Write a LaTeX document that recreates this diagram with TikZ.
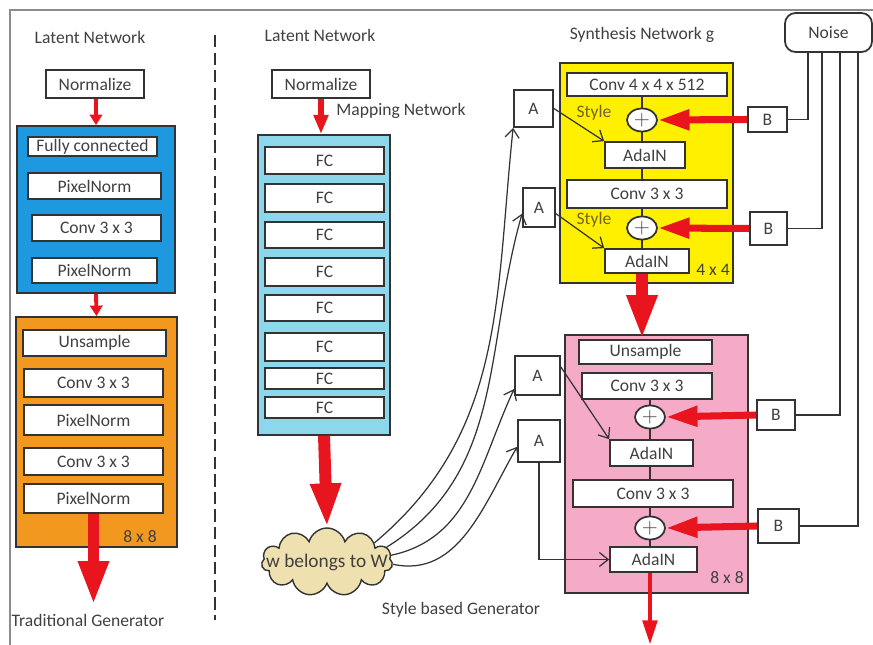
\documentclass[tikz,border=0pt]{standalone}
\usepackage{fontspec}
\setmainfont{Carlito}
\usepackage{tikz}
\usetikzlibrary{arrows.meta,shapes.geometric,shapes.symbols}

\definecolor{netblue}{RGB}{30,152,222}
\definecolor{netorange}{RGB}{243,152,30}
\definecolor{netcyan}{RGB}{140,215,235}
\definecolor{netyellow}{RGB}{255,240,0}
\definecolor{netpink}{RGB}{245,170,200}
\definecolor{cloudtan}{RGB}{238,225,175}
\definecolor{netred}{RGB}{232,20,30}
\definecolor{styletext}{RGB}{115,100,40}

\begin{document}
\begin{tikzpicture}[
	x=0.02cm, y=-0.02cm,
	every node/.style={font=\fontsize{10}{12}\selectfont, text=black!75},
	blk/.style={draw=black!80, line width=1pt, fill=white, inner sep=0pt},
	stage/.style={draw=black!80, line width=1pt, inner sep=0pt},
	addop/.style={ellipse, draw=black!80, line width=1pt, fill=white, inner sep=0pt,
		minimum width=0.6cm, minimum height=0.46cm, font=\large},
	link/.style={draw=black!80, line width=0.7pt},
	wire/.style={draw=black!80, line width=0.7pt, -{Straight Barb[length=5pt,width=8pt]}},
	thinred/.style={draw=netred, line width=2.2pt, -{Triangle[length=6pt,width=7pt]}},
	feedred/.style={draw=netred, line width=4pt, -{Triangle[length=18pt,width=11pt]}},
	bigred/.style={draw=netred, line width=6.8pt, -{Triangle[length=25pt,width=16pt]}}
	]
	
	\useasboundingbox (0,0) rectangle (873,645);
	
	% Frame and separator
	\draw[black!45, line width=1.2pt] (10,645) -- (10,10) -- (873,10);
	\draw[black!80, line width=1.6pt, dash pattern=on 7pt off 3pt] (215,35) -- (215,620);
	
	% Traditional generator
	\node at (90,37) {Latent Network};
	\node[blk, minimum width=1.96cm, minimum height=0.56cm] (norm1) at (95,84) {Normalize};
	\node[stage, fill=netblue, minimum width=3.16cm, minimum height=3.34cm] (gblue) at (96,209.5) {};
	\node[blk, minimum width=2.58cm, minimum height=0.38cm] (fcon) at (92.5,146.5) {Fully connected};
	\node[blk, minimum width=2.66cm, minimum height=0.52cm] (pn1) at (94.5,186) {PixelNorm};
	\node[blk, minimum width=2.58cm, minimum height=0.52cm] (cv1) at (96.5,228) {Conv 3 x 3};
	\node[blk, minimum width=2.5cm, minimum height=0.5cm] (pn2) at (94.5,270.5) {PixelNorm};
	
	\node[stage, fill=netorange, minimum width=3.22cm, minimum height=4.6cm] (gorange) at (96.5,432) {};
	\node[blk, minimum width=2.86cm, minimum height=0.52cm] (up1) at (94.5,343) {Unsample};
	\node[blk, minimum width=2.78cm, minimum height=0.56cm] (cv2) at (93.5,383) {Conv 3 x 3};
	\node[blk, minimum width=2.78cm, minimum height=0.6cm] (pn3) at (93.5,420) {PixelNorm};
	\node[blk, minimum width=2.78cm, minimum height=0.54cm] (cv3) at (93.5,461.5) {Conv 3 x 3};
	\node[blk, minimum width=2.78cm, minimum height=0.58cm] (pn4) at (93.5,498.5) {PixelNorm};
	\node (tg8) at (140,537) {8 x 8};
	\coordinate (tgout) at (93.5,605);
	\node (tglabel) at (88,620) {Traditional Generator};
	
	\draw[thinred] (norm1.south -| gblue) -- (gblue.north);
	\draw[thinred] (gblue.south) -- (gorange.north);
	\draw[bigred] (pn4.south) -- (tgout);
	
	% Mapping network
	\node at (320,35) {Latent Network};
	\node[blk, minimum width=1.96cm, minimum height=0.56cm] (norm2) at (321,84) {Normalize};
	\node (maplabel) at (401,111) {Mapping Network};
	\node[stage, fill=netcyan, minimum width=2.64cm, minimum height=6cm] (gmap) at (324,285) {};
	\foreach \y/\h [count=\i] in {160.5/0.54,198/0.56,235/0.52,272/0.56,308/0.52,347/0.56,378.5/0.42,407.5/0.42}
	\node[blk, minimum width=2.38cm, minimum height=\h cm] (fc\i) at (324.5,\y) {FC};
	
	\node[cloud, cloud puffs=11, aspect=2.2, draw=black!80, line width=0.8pt, fill=cloudtan,
	minimum width=2.62cm, minimum height=1.36cm, inner sep=0pt] (cloud) at (327,562) {};
	\node[font=\fontsize{11}{13}\selectfont] (wlabel) at (327,562) {w belongs to W};
	\node (sglabel) at (461,610) {Style based Generator};
	
	\draw[draw=netred, line width=3.4pt, -{Triangle[length=11pt,width=8pt]}] (norm2.south) -- (norm2.south |- gmap.north);
	\draw[bigred] (gmap.south) -- (cloud.north);
	
	% Synthesis network
	\node at (642,35) {Synthesis Network g};
	\node[blk, rounded corners=6pt, minimum width=1.74cm, minimum height=0.78cm] (noise) at (828.5,32.5) {Noise};
	
	\node[stage, fill=netyellow, minimum width=3.46cm, minimum height=4.4cm] (gyellow) at (646.5,173) {};
	\node[blk, minimum width=3.2cm, minimum height=0.46cm] (c4) at (647,84.5) {Conv 4 x 4 x 512};
	\node[addop] (add1) at (642,120) {$+$};
	\node[blk, minimum width=1.6cm, minimum height=0.52cm] (ada1) at (645,155) {AdaIN};
	\node[blk, minimum width=3.2cm, minimum height=0.56cm] (c5) at (647,194) {Conv 3 x 3};
	\node[addop] (add2) at (642,228) {$+$};
	\node[blk, minimum width=1.68cm, minimum height=0.48cm] (ada2) at (647,261) {AdaIN};
	\node (sy4) at (713,270) {4 x 4};
	\node[text=styletext] (st1) at (594,113) {Style};
	\node[text=styletext] (st2) at (594,220) {Style};
	
	\node[stage, fill=netpink, minimum width=3.66cm, minimum height=5.16cm] (gpink) at (656.5,464) {};
	\node[blk, minimum width=2.66cm, minimum height=0.48cm] (up2) at (645.5,352) {Unsample};
	\node[blk, minimum width=2.6cm, minimum height=0.52cm] (c6) at (647,386) {Conv 3 x 3};
	\node[addop] (add3) at (650,417) {$+$};
	\node[blk, minimum width=1.66cm, minimum height=0.52cm] (ada3) at (651.5,453) {AdaIN};
	\node[blk, minimum width=3.2cm, minimum height=0.54cm] (c7) at (653,493.5) {Conv 3 x 3};
	\node[addop] (add4) at (650,528) {$+$};
	\node[blk, minimum width=1.74cm, minimum height=0.5cm] (ada4) at (653.5,559.5) {AdaIN};
	\node (sy8) at (727,578) {8 x 8};
	\coordinate (synout) at (650,645);
	
	% Style inputs A
	\node[blk, minimum width=0.78cm, minimum height=0.74cm] (a1) at (533.5,108.5) {A};
	\node[blk, minimum width=0.64cm, minimum height=0.78cm] (a2) at (539,207.5) {A};
	\node[blk, minimum width=0.9cm, minimum height=0.78cm] (a3) at (537.5,375.5) {A};
	\node[blk, minimum width=0.84cm, minimum height=0.84cm] (a4) at (539,441) {A};
	
	% Noise inputs B
	\node[blk, minimum width=0.78cm, minimum height=0.5cm] (b1) at (767.5,119.5) {B};
	\node[blk, minimum width=0.74cm, minimum height=0.66cm] (b2) at (768.5,228.5) {B};
	\node[blk, minimum width=0.76cm, minimum height=0.6cm] (b3) at (776,415) {B};
	\node[blk, minimum width=0.82cm, minimum height=0.68cm] (b4) at (778.5,526) {B};
	\coordinate (n1) at (808,52);
	\coordinate (n2) at (822,52);
	\coordinate (n3) at (840,52);
	\coordinate (n4) at (858,52);
	
	% Data path
	\draw[link] (c4.south -| add1) -- (add1.north);
	\draw[link] (add1.south) -- (ada1.north -| add1);
	\draw[link] (ada1.south -| add1) -- (c5.north -| add1);
	\draw[link] (c5.south -| add2) -- (add2.north);
	\draw[link] (add2.south) -- (ada2.north -| add2);
	\draw[bigred] (ada2.south -| add2) -- (up2.north -| add2);
	\draw[link] (c6.south -| add3) -- (add3.north);
	\draw[link] (add3.south) -- (ada3.north -| add3);
	\draw[link] (ada3.south -| add3) -- (c7.north -| add3);
	\draw[link] (c7.south -| add4) -- (add4.north);
	\draw[link] (add4.south) -- (ada4.north -| add4);
	\draw[draw=netred, line width=2.8pt, -{Triangle[length=14pt,width=8pt]}] (ada4.south -| add4) -- (synout);
	
	% Noise wiring
	\draw[link] (b1.east) -| (n1);
	\draw[link] (b2.east) -| (n2);
	\draw[link] (b3.east) -| (n3);
	\draw[link] (b4.east) -| (n4);
	\draw[feedred] (b1.west) -- (add1.east);
	\draw[feedred] (b2.west) -- (add2.east);
	\draw[feedred] (b3.west) -- (add3.east);
	\draw[feedred] (b4.west) -- (add4.east);
	
	% Style wiring
	\draw[wire] (a1.east) -- (ada1.north west);
	\draw[wire] (a2.-20) -- (ada2.north west);
	\draw[wire] (a3.20) -- (ada3.north west);
	\draw[wire] (a4.south) |- (ada4.west);
	
	\draw[wire] (cloud.22) to[out=40,in=-96] (a1.south west);
	\draw[wire] (cloud.14) to[out=32,in=-106] (a2.200);
	\draw[wire] (cloud.6) to[out=12,in=-115] (a3.210);
	\draw[wire] (cloud.-2) to[out=-12,in=-120] (a4.195);
	
\end{tikzpicture}
\end{document}
